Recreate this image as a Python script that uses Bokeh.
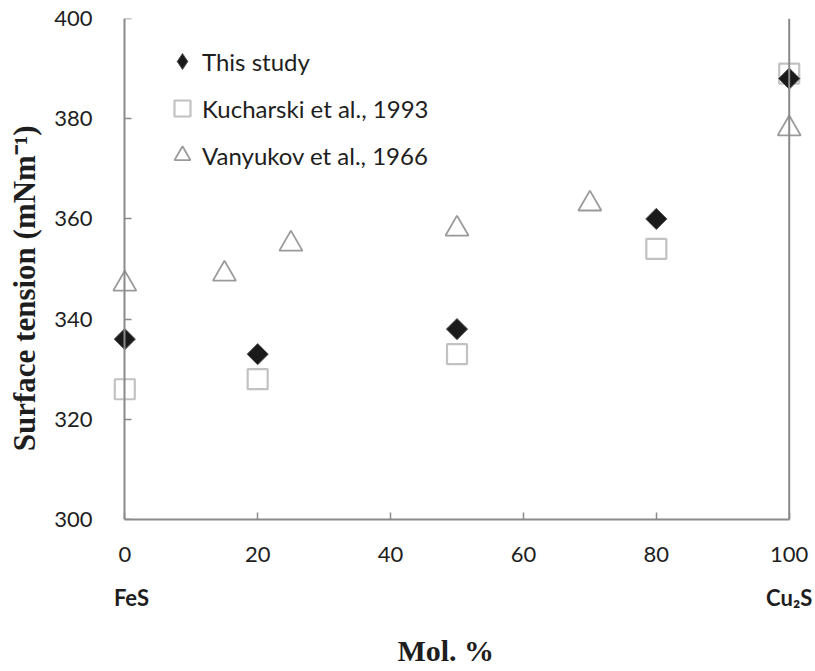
from bokeh.plotting import figure
from bokeh.models import Legend, LegendItem, Span, FixedTicker, LinearAxis
from bokeh.embed import file_html
from bokeh.resources import INLINE

# Data
study_x = [0, 20, 50, 80, 100]
study_y = [336, 333, 338, 360, 388]
kuch_x = [0, 20, 50, 80, 100]
kuch_y = [326, 328, 333, 354, 389]
vany_x = [0, 15, 25, 50, 70, 100]
vany_y = [347, 349, 355, 358, 363, 378]
x_ticks = [0, 20, 40, 60, 80, 100]
y_ticks = [300, 320, 340, 360, 380, 400]
end_labels = {1: "FeS", 100: "Cu₂S"}

TICK_FONT = "Lato"
AX = "#8a8a8a"
TXT = "#1e1e1e"
NB = "\u00a0"

p = figure(width=815, height=671, x_range=(-2, 102), y_range=(300, 400),
           output_backend="svg", toolbar_location=None,
           min_border_left=111, min_border_right=13, min_border_top=18, min_border_bottom=152)
p.outline_line_color = None
p.xgrid.grid_line_color = None
p.ygrid.grid_line_color = None

# x axis
xa = p.xaxis[0]
xa.ticker = FixedTicker(ticks=x_ticks)
xa.bounds = (0, 100)
xa.axis_line_color = AX
xa.axis_line_width = 2
xa.major_tick_line_color = AX
xa.major_tick_line_width = 1.5
xa.major_tick_in = 7
xa.major_tick_out = 0
xa.minor_tick_line_color = None
xa.major_label_text_font = TICK_FONT
xa.major_label_text_font_size = "22px"
xa.major_label_text_color = TXT
xa.major_label_standoff = 27

# y axis labels (at frame edge, no line)
ya = p.yaxis[0]
ya.ticker = FixedTicker(ticks=y_ticks)
ya.axis_line_color = None
ya.major_tick_line_color = None
ya.minor_tick_line_color = None
ya.major_label_text_font = TICK_FONT
ya.major_label_text_font_size = "22px"
ya.major_label_text_color = TXT
ya.major_label_standoff = 13
ya.axis_label = "Surface tension (mNm⁻¹)" + NB * 5
ya.axis_label_text_font = "Liberation Serif"
ya.axis_label_text_font_style = "bold"
ya.axis_label_text_font_size = "31px"
ya.axis_label_text_color = TXT
ya.axis_label_standoff = 9

# y axis line + inward ticks at x = 0
y_line = LinearAxis(ticker=FixedTicker(ticks=y_ticks), fixed_location=0,
                    axis_line_color=AX, axis_line_width=2,
                    major_tick_line_color=AX, major_tick_line_width=1.5,
                    major_tick_in=7, major_tick_out=0,
                    minor_tick_line_color=None,
                    major_label_text_font_size="0px", major_label_text_color=None,
                    major_label_standoff=0)
p.add_layout(y_line, "left")

end_axis = LinearAxis(ticker=FixedTicker(ticks=list(end_labels.keys())),
                      major_label_overrides=end_labels,
                      axis_line_color=None, major_tick_line_color=None,
                      minor_tick_line_color=None,
                      major_label_standoff=13,
                      major_label_text_font=TICK_FONT,
                      major_label_text_font_style="bold",
                      major_label_text_font_size="22px",
                      major_label_text_color=TXT,
                      axis_label="Mol. %" + NB * 3,
                      axis_label_text_font="Liberation Serif",
                      axis_label_text_font_style="bold",
                      axis_label_text_font_size="30px",
                      axis_label_text_color=TXT,
                      axis_label_standoff=20)
p.add_layout(end_axis, "below")

p.add_layout(Span(location=100, dimension="height", line_color=AX, line_width=2))

r_v = p.scatter(vany_x, vany_y, marker="triangle", size=23, fill_color=None,
                line_color="#9a9a9a", line_width=1.8)
r_k = p.scatter(kuch_x, kuch_y, marker="square", size=20, fill_color=None,
                line_color="#c2c2c2", line_width=2.2)
r_s = p.scatter(study_x, study_y, marker="square", angle=0.7854, size=15,
                fill_color="#1a1a1a", line_color="#555555", line_width=1)
# legend swatch for the diamond series (draws nothing in the plot)
r_s_key = p.scatter(x=[float("nan")], y=[float("nan")], marker="diamond", size=15,
                    fill_color="#1a1a1a", line_color="#555555", line_width=1)

legend = Legend(items=[LegendItem(label="This study", renderers=[r_s_key]),
                       LegendItem(label="Kucharski et al., 1993", renderers=[r_k]),
                       LegendItem(label="Vanyukov et al., 1966", renderers=[r_v])],
                location=(51, 344), padding=0, margin=0, spacing=7,
                label_height=40, glyph_height=40, glyph_width=40, label_standoff=0,
                label_text_font=TICK_FONT, label_text_font_size="24px",
                label_text_color=TXT, border_line_color=None,
                background_fill_alpha=0)
p.add_layout(legend, "center")

open("out.html", "w").write(file_html(p, INLINE))
